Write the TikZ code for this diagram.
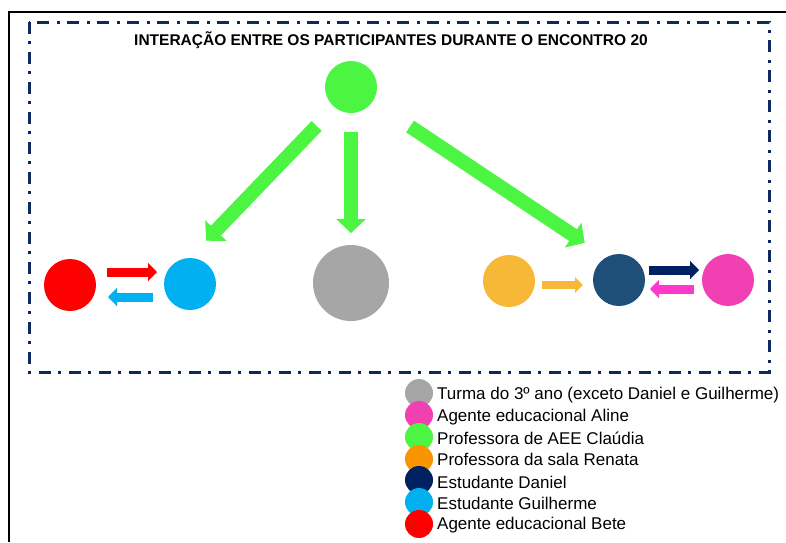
\documentclass[tikz,border=0pt]{standalone}
\usepackage{fontspec}
\setmainfont{Liberation Sans}
\usepackage{xcolor}
\usetikzlibrary{
	arrows.meta,
	calc,
}
\definecolor{verde}{rgb}{0.30, 0.96, 0.26}
\definecolor{cinza}{rgb}{0.65, 0.65, 0.65}
\definecolor{vermelho}{rgb}{1.0, 0.0, 0.0}
\definecolor{ciano}{rgb}{0.0, 0.69, 0.94}
\definecolor{laranja}{rgb}{0.97, 0.72, 0.22}
\definecolor{laranjaleg}{rgb}{0.97, 0.58, 0.0}
\definecolor{azul}{rgb}{0.12, 0.31, 0.47}
\definecolor{marinho}{rgb}{0.0, 0.13, 0.38}
\definecolor{rosa}{rgb}{0.94, 0.25, 0.70}
\definecolor{rosaseta}{rgb}{1.0, 0.22, 0.80}
\definecolor{moldura}{rgb}{0.05, 0.16, 0.37}

\begin{document}
\begin{tikzpicture}[x=1pt, y=-1pt,
	pessoa/.style={circle, minimum size=52pt, inner sep=0pt, outer sep=0pt},
	bolinha/.style={circle, minimum size=28pt, inner sep=0pt, outer sep=0pt},
	legenda/.style={anchor=west, inner sep=0pt, font=\fontsize{17}{19}\selectfont},
	setagrande/.style={line width=14pt, verde, -{Triangle[length=14pt, width=29pt]}},
	setapequena/.style={line width=9pt, -{Triangle[length=9pt, width=18pt]}},
]
\useasboundingbox (0,0) rectangle (786,542);

% outer frame
\draw[line width=1.5pt] (9,542) -- (9,12) -- (786,12);

% dash-dot frame
\draw[moldura, line width=3pt, dash pattern=on 12pt off 7pt on 3pt off 8pt]
	(29,22) rectangle (769,372);

\node[font=\bfseries\fontsize{15.5}{17}\selectfont] (titulo) at (391,40)
	{INTERAÇÃO ENTRE OS PARTICIPANTES DURANTE O ENCONTRO 20};

% participants
\node[pessoa, fill=verde] (claudia) at (351,87) {};
\node[pessoa, fill=vermelho] (bete) at (70,285) {};
\node[pessoa, fill=ciano] (guilherme) at (190,284) {};
\node[pessoa, fill=cinza, minimum size=76pt] (turma) at (351,283) {};
\node[pessoa, fill=laranja] (renata) at (509,281) {};
\node[pessoa, fill=azul] (daniel) at (619,280) {};
\node[pessoa, fill=rosa] (aline) at (728,280) {};

% arrows from Claudia
\draw[setagrande, shorten <=26pt, shorten >=24pt] (claudia.-129.5) -- (guilherme.91);
\draw[setagrande, shorten <=19pt, shorten >=12pt] (claudia.south) -- (turma.north);
\draw[setagrande, shorten <=45pt, shorten >=26pt] (claudia.-34) -- (daniel.119);

% arrows between pairs
\draw[setapequena, vermelho, shorten <=11pt, shorten >=7pt]
	([yshift=13pt]bete.east) -- ([yshift=13pt]bete.east -| guilherme.west);
\draw[setapequena, ciano, shorten <=11pt, shorten >=12pt]
	([yshift=-13pt]guilherme.west) -- ([yshift=-13pt]guilherme.west -| bete.east);
\draw[setapequena, laranja, line width=8pt, -{Triangle[length=8pt, width=15pt]}, shorten <=7pt, shorten >=10pt]
	([yshift=-4pt]renata.east) -- ([yshift=-4pt]renata.east -| daniel.west);
\draw[setapequena, marinho, shorten <=4pt, shorten >=3pt]
	([yshift=10pt]daniel.east) -- ([yshift=10pt]daniel.east -| aline.west);
\draw[setapequena, rosaseta, shorten <=8pt, shorten >=5pt]
	([yshift=-9pt]aline.west) -- ([yshift=-9pt]aline.west -| daniel.east);

% legend
\node[bolinha, fill=cinza] (leg1) at (419,393) {};
\node[legenda] (txt1) at (437,395) {Turma do 3º ano (exceto Daniel e Guilherme)};
\node[bolinha, fill=rosa] (leg2) at (419,415) {};
\node[legenda] (txt2) at (437,417) {Agente educacional Aline};
\node[bolinha, fill=verde] (leg3) at (419,437) {};
\node[legenda] (txt3) at (437,438) {Professora de AEE Claúdia};
\node[bolinha, fill=laranjaleg] (leg4) at (419,459) {};
\node[legenda] (txt4) at (437,459) {Professora da sala Renata};
\node[bolinha, fill=marinho] (leg5) at (419,480) {};
\node[legenda] (txt5) at (437,482) {Estudante Daniel};
\node[bolinha, fill=ciano] (leg6) at (419,502) {};
\node[legenda] (txt6) at (437,503) {Estudante Guilherme};
\node[bolinha, fill=vermelho] (leg7) at (419,524) {};
\node[legenda] (txt7) at (437,525) {Agente educacional Bete};
\end{tikzpicture}
\end{document}
